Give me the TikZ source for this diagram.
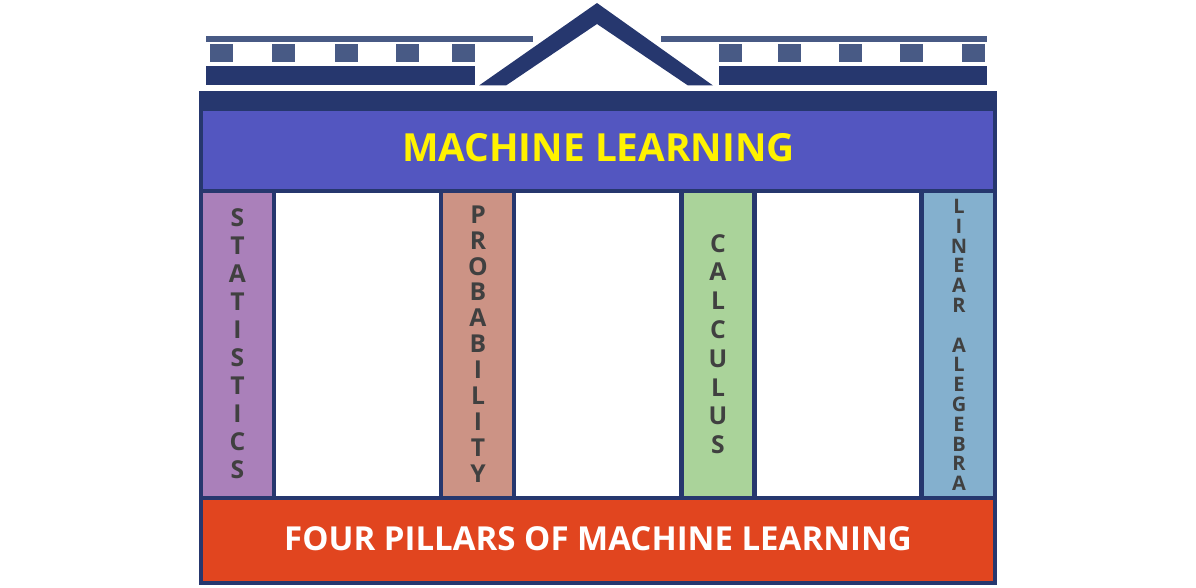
\documentclass[tikz,border=0pt]{standalone}
\usepackage{fontspec}
\setmainfont{Open Sans}
\definecolor{navy}{HTML}{26376E}
\definecolor{slate}{HTML}{485A85}
\definecolor{band}{HTML}{5356C0}
\definecolor{stat}{HTML}{AA80BA}
\definecolor{prob}{HTML}{CC9385}
\definecolor{calc}{HTML}{AAD39A}
\definecolor{lin}{HTML}{84B0CE}
\definecolor{foot}{HTML}{E1451F}
\definecolor{ink}{HTML}{404040}
\tikzset{
  px/.style={x=0.75pt,y=-0.75pt},
  pillar/.style={font=\bfseries\fontsize{18.5}{21}\selectfont,text=ink,align=center,inner sep=0pt},
  title/.style={font=\bfseries\fontsize{29.05}{34}\selectfont,inner sep=0pt}
}
\newcommand{\rct}[6]{\fill[#6] (#2,#3) rectangle (#4,#5) coordinate[midway] (#1);}
\begin{document}
\begin{tikzpicture}[px]
\useasboundingbox (0,0) rectangle (1196,588);
% entablature
\rct{body}{199}{91}{997}{585}{navy}
\rct{hd}{203}{111}{993}{189}{band}
\rct{st}{203}{193}{272}{496}{stat}
\rct{w1}{276}{193}{439}{496}{white}
\rct{pr}{443}{193}{512}{496}{prob}
\rct{w2}{516}{193}{679}{496}{white}
\rct{ca}{684}{193}{752}{496}{calc}
\rct{w3}{757}{193}{919}{496}{white}
\rct{li}{924}{193}{993}{496}{lin}
\rct{ft}{203}{500}{993}{581}{foot}
% roof
\rct{tl}{206}{36}{533}{42}{slate}
\rct{tr}{661}{36}{987}{42}{slate}
\rct{bl}{206}{66}{475}{85.5}{navy}
\rct{br}{719}{66}{987}{85.5}{navy}
\foreach \a/\n in {210/a,272/b,335/c,396/d,452/e}{\rct{l\n}{\a}{44}{\a+22.5}{62}{slate}}
\foreach \a/\n in {719/a,778/b,839/c,900/d,962/e}{\rct{r\n}{\a}{44}{\a+22.5}{62}{slate}}
\fill[navy] (479,85.5) -- (597,3) -- (713,85.5) -- (688,85.5) -- (597,24) -- (506,85.5) -- cycle;
% labels
\node[title,text=yellow] (hdt) at (598.5,148) {MACHINE LEARNING};
\node[title,text=white,font=\bfseries\fontsize{24.76}{30}\selectfont] (ftt) at (598,538.5) {FOUR PILLARS OF MACHINE LEARNING};
\node[pillar] (stt) at (237.5,344) {S\\T\\A\\T\\I\\S\\T\\I\\C\\S};
\node[pillar,font=\bfseries\fontsize{18.5}{19.43}\selectfont] (prt) at (478,344) {P\\R\\O\\B\\A\\B\\I\\L\\I\\T\\Y};
\node[pillar,font=\bfseries\fontsize{18.5}{21.6}\selectfont] (cat) at (718,344) {C\\A\\L\\C\\U\\L\\U\\S};
\node[pillar,font=\bfseries\fontsize{15}{14.85}\selectfont] (lit) at (959,345) {L\\I\\N\\E\\A\\R\\[14.85pt]A\\L\\E\\G\\E\\B\\R\\A};
\end{tikzpicture}
\end{document}
